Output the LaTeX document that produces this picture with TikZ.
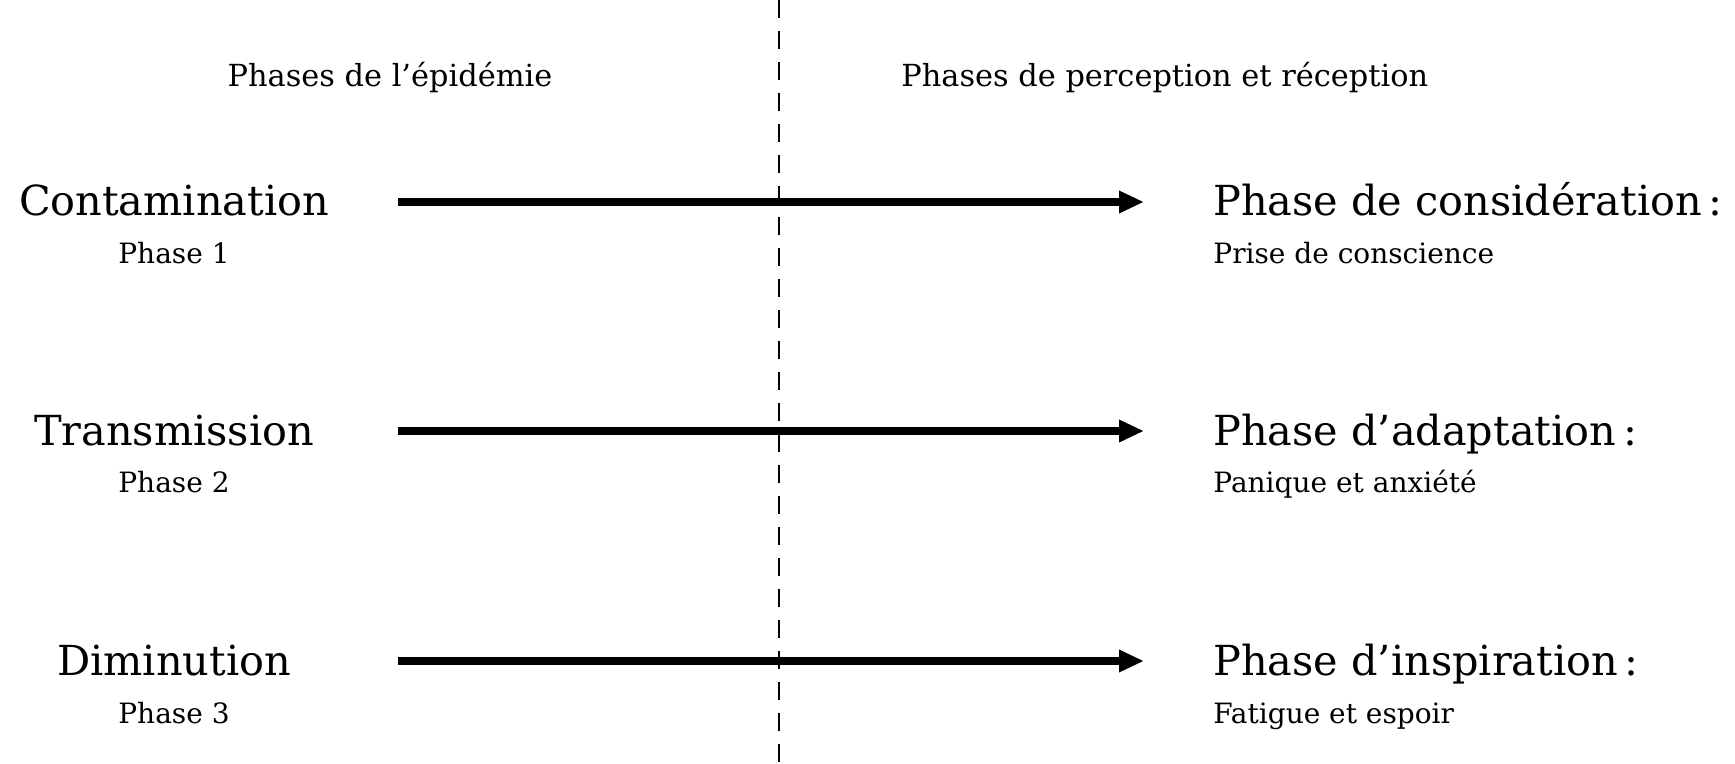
\documentclass[tikz,border=0pt]{standalone}
\usepackage{fontspec}
\setmainfont{DejaVu Serif}
\usetikzlibrary{arrows.meta}
\begin{document}
\begin{tikzpicture}[x=0.5pt,y=-0.5pt,
  big/.style={font=\fontsize{20.7}{24}\selectfont, inner sep=0pt},
  sub/.style={font=\fontsize{14}{16}\selectfont, inner sep=0pt},
  head/.style={font=\fontsize{15.2}{18}\selectfont, inner sep=0pt},
  flow/.style={line width=4.2pt, -{Triangle[length=12.5pt,width=10.5pt]}},
  divider/.style={line width=1pt, dash pattern=on 9pt off 6.5pt}]
\useasboundingbox (0,0) rectangle (1735,764);
\coordinate (dtop) at (779,0);
\coordinate (dbot) at (779,764);
\draw[divider] (dtop) -- (dbot);
\node[head, anchor=base] (hl) at (390,87) {Phases de l’épidémie};
\node[head, anchor=base west] (hr) at (901,87) {Phases de perception et réception};
% row 1
\node[big, anchor=base] (c1) at (174,216) {Contamination};
\node[sub, anchor=base] (p1) at (174,264) {Phase 1};
\node[big, anchor=base west] (r1) at (1213,216) {Phase de considération\,:};
\node[sub, anchor=base west] (q1) at (1213,264) {Prise de conscience};
\coordinate (s1) at (398,202);
\coordinate (e1) at (1144,202);
\draw[flow] (s1) -- (e1);
% row 2
\node[big, anchor=base] (c2) at (174,445) {Transmission};
\node[sub, anchor=base] (p2) at (174,493) {Phase 2};
\node[big, anchor=base west] (r2) at (1213,445) {Phase d’adaptation\,:};
\node[sub, anchor=base west] (q2) at (1213,493) {Panique et anxiété};
\coordinate (s2) at (398,431);
\coordinate (e2) at (1144,431);
\draw[flow] (s2) -- (e2);
% row 3
\node[big, anchor=base] (c3) at (174,675) {Diminution};
\node[sub, anchor=base] (p3) at (174,723) {Phase 3};
\node[big, anchor=base west] (r3) at (1213,675) {Phase d’inspiration\,:};
\node[sub, anchor=base west] (q3) at (1213,723) {Fatigue et espoir};
\coordinate (s3) at (398,661);
\coordinate (e3) at (1144,661);
\draw[flow] (s3) -- (e3);
\end{tikzpicture}
\end{document}
